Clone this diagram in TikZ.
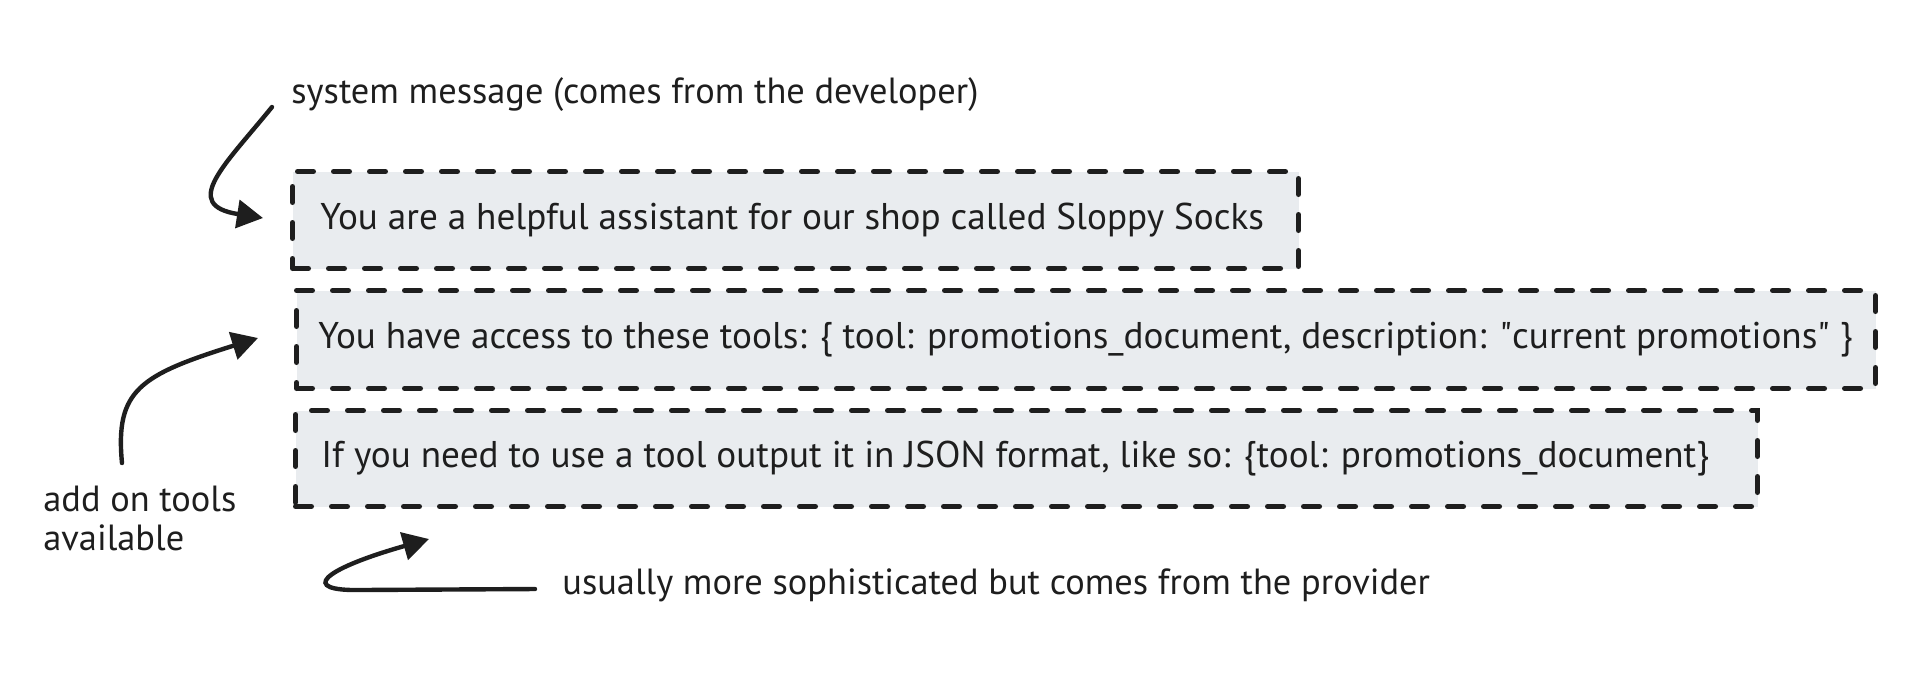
\documentclass[tikz,border=0pt]{standalone}
\usepackage{fontspec}
\setmainfont{PT Sans}
\usetikzlibrary{arrows.meta,positioning}
\definecolor{ink}{HTML}{1E1E1E}
\definecolor{boxfill}{HTML}{E9ECEF}
\tikzset{
  msgbox/.style={draw=ink, fill=boxfill, line width=2.5pt, dash pattern=on 8pt off 10pt,
    line cap=round, anchor=north west, inner sep=0pt},
  msgtext/.style={text=ink, font=\fontsize{18.6}{22}\selectfont, anchor=west, inner sep=0pt},
  note/.style={text=ink, font=\fontsize{18.2}{19.5}\selectfont, align=left, inner sep=0pt},
  hand/.style={draw=ink, line width=2.2pt, line cap=round,
    -{Triangle[length=13pt,width=14pt]}},
}
\begin{document}
\begin{tikzpicture}[x=0.5pt,y=-0.5pt]
\useasboundingbox (0,0) rectangle (1920,682);

% define nodes

% boxes
\node[msgbox, minimum width=503pt, minimum height=48.5pt] (sys) at (290,169) {};
\node[msgbox, minimum width=789.5pt, minimum height=49pt] (tools) at (294,288) {};
\node[msgbox, minimum width=731pt, minimum height=48pt] (fmt) at (293,408) {};

% box texts
\node[msgtext] (systxt) at ([xshift=15pt]sys.west) {You are a helpful assistant for our shop called Sloppy Socks};
\node[msgtext] (toolstxt) at ([xshift=12pt]tools.west) {You have access to these tools: \{ tool: promotions\_document, description: \textquotedbl current promotions\textquotedbl{} \}};
\node[msgtext] (fmttxt) at ([xshift=14pt]fmt.west) {If you need to use a tool output it in JSON format, like so: \{tool: promotions\_document\}};

% notes
\node[note, anchor=west] (sysnote) at (291,95) {system message (comes from the developer)};
\node[note, anchor=north west] (toolnote) at (43,486) {add on tools\\available};
\node[note, anchor=west] (provnote) at (562,585) {usually more sophisticated but comes from the provider};

% arrow ends
\coordinate (sysfrom) at (272,107);
\coordinate (systo) at (263,218);
\coordinate (toolfrom) at (122,463);
\coordinate (toolto) at (258,338);
\coordinate (provfrom) at (535,589);
\coordinate (provto) at (429,539);

% edges

\draw[hand] (sysfrom) .. controls (225,165) and (180,205) .. (systo);
\draw[hand] (toolfrom) .. controls (115,390) and (140,375) .. (toolto);
\draw[hand] (provfrom) -- (360,590) .. controls (300,591) and (320,570) .. (provto);

\end{tikzpicture}
\end{document}
